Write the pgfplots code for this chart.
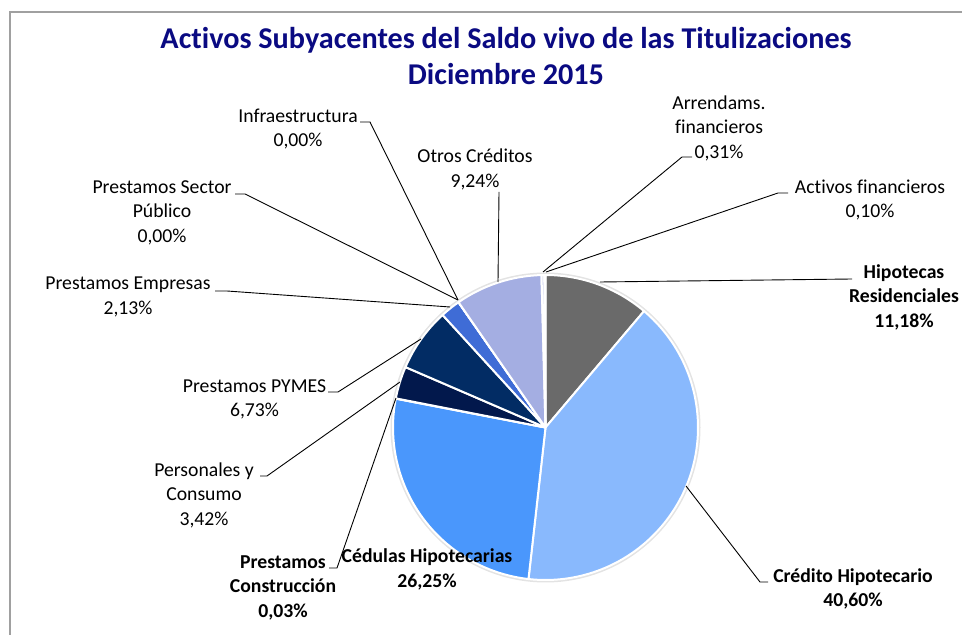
\documentclass[border=0pt]{standalone}
\usepackage{pgfplots}
\pgfplotsset{compat=1.18}
\usepackage{fontspec}
\setmainfont[Ligatures={NoCommon}]{Carlito}
\definecolor{titleblue}{RGB}{10,10,130}
\definecolor{cHR}{RGB}{106,106,106}
\definecolor{cCH}{RGB}{137,185,253}
\definecolor{cCed}{RGB}{74,151,252}
\definecolor{cCon}{RGB}{20,60,140}
\definecolor{cPer}{RGB}{2,24,76}
\definecolor{cPym}{RGB}{2,44,100}
\definecolor{cEmp}{RGB}{63,108,214}
\definecolor{cSP}{RGB}{90,120,200}
\definecolor{cInf}{RGB}{120,140,210}
\definecolor{cOtr}{RGB}{164,174,226}
\definecolor{cArr}{RGB}{200,205,235}
\definecolor{cAct}{RGB}{220,220,230}
\definecolor{frame}{RGB}{160,160,160}
% slice: #1 = cumulative percent before the slice, #2 = slice percent, #3 = colour
\newcommand{\pieslice}[3]{%
  \fill[#3, draw=white, line width=2pt, line join=round]
    (axis cs:545.5,207.5) --
    (axis cs:{545.5+152.5*cos(90-3.6*#1)},{207.5+152.5*sin(90-3.6*#1)})
    arc[start angle={90-3.6*#1}, end angle={90-3.6*(#1+#2)}, radius=152.5pt] -- cycle;}
\newcommand{\lbl}{\fontsize{19.7}{24.5}\selectfont}
\begin{document}
\begin{tikzpicture}
\useasboundingbox (0,0) rectangle (962pt,635pt);
\begin{axis}[
  at={(0,0)}, anchor=south west,
  scale only axis, width=962pt, height=635pt,
  xmin=0, xmax=962, ymin=0, ymax=635,
  enlargelimits=false, hide axis, clip=false]
% frame (left and top edges visible)
\draw[frame, line width=1.2pt] (axis cs:10,-5) -- (axis cs:10,623) -- (axis cs:970,623);
% title
\node[align=center, text=titleblue, font=\fontsize{30.2}{36}\selectfont\bfseries]
  at (axis cs:506,579) {Activos Subyacentes del Saldo vivo de las Titulizaciones\\Diciembre 2015};
% soft outline
\fill[gray!22] (axis cs:545.5,207.5) circle[radius=155pt];
% slices (percent values)
\pieslice{0}{11.18}{cHR}
\pieslice{11.18}{40.60}{cCH}
\pieslice{51.78}{26.25}{cCed}
\pieslice{78.03}{0.03}{cCon}
\pieslice{78.06}{3.42}{cPer}
\pieslice{81.48}{6.73}{cPym}
\pieslice{88.21}{2.13}{cEmp}
\pieslice{90.34}{0.00}{cSP}
\pieslice{90.34}{0.00}{cInf}
\pieslice{90.34}{9.24}{cOtr}
\pieslice{99.58}{0.31}{cArr}
\pieslice{99.89}{0.10}{cAct}
% leader lines
\begin{scope}[black, line width=0.9pt]
\draw (axis cs:360,513) -- (axis cs:370,513) -- (axis cs:458,335);
\draw (axis cs:235,441) -- (axis cs:245,441) -- (axis cs:458,335);
\draw (axis cs:215,344) -- (axis cs:227,344) -- (axis cs:450,328);
\draw (axis cs:499,443) -- (axis cs:498,353);
\draw (axis cs:692,478) -- (axis cs:682,478) -- (axis cs:543,363);
\draw (axis cs:788,442) -- (axis cs:778,442) -- (axis cs:546,363);
\draw (axis cs:600,353) -- (axis cs:852,356);
\draw (axis cs:768,53) -- (axis cs:760,53) -- (axis cs:686,149);
\draw (axis cs:329,67) -- (axis cs:337,67) -- (axis cs:396,237);
\draw (axis cs:260,159) -- (axis cs:267,159) -- (axis cs:400,253);
\draw (axis cs:328,243) -- (axis cs:338,243) -- (axis cs:421,296);
\end{scope}
% labels
\node[align=center, font=\lbl] at (axis cs:298,506) {Infraestructura\\0,00\%};
\node[align=center, font=\lbl] at (axis cs:162,422.5) {Prestamos Sector\\Público\\0,00\%};
\node[align=center, font=\lbl] at (axis cs:128,338) {Prestamos Empresas\\2,13\%};
\node[align=center, font=\lbl] at (axis cs:475,465.5) {Otros Créditos\\9,24\%};
\node[align=center, font=\lbl] at (axis cs:719,507) {Arrendams.\\financieros\\0,31\%};
\node[align=center, font=\lbl] at (axis cs:870,435) {Activos financieros\\0,10\%};
\node[align=center, font=\lbl\bfseries] at (axis cs:904,338) {Hipotecas\\Residenciales\\11,18\%};
\node[align=center, font=\lbl\bfseries] at (axis cs:853,46) {Crédito Hipotecario\\40,60\%};
\node[align=center, font=\lbl\bfseries] at (axis cs:427,65.5) {Cédulas Hipotecarias\\26,25\%};
\node[align=center, font=\lbl\bfseries] at (axis cs:283,47.5) {Prestamos\\Construcción\\0,03\%};
\node[align=center, font=\lbl] at (axis cs:204,140) {Personales y\\Consumo\\3,42\%};
\node[align=center, font=\lbl] at (axis cs:254.5,235.5) {Prestamos PYMES\\6,73\%};
\end{axis}
\end{tikzpicture}
\end{document}
